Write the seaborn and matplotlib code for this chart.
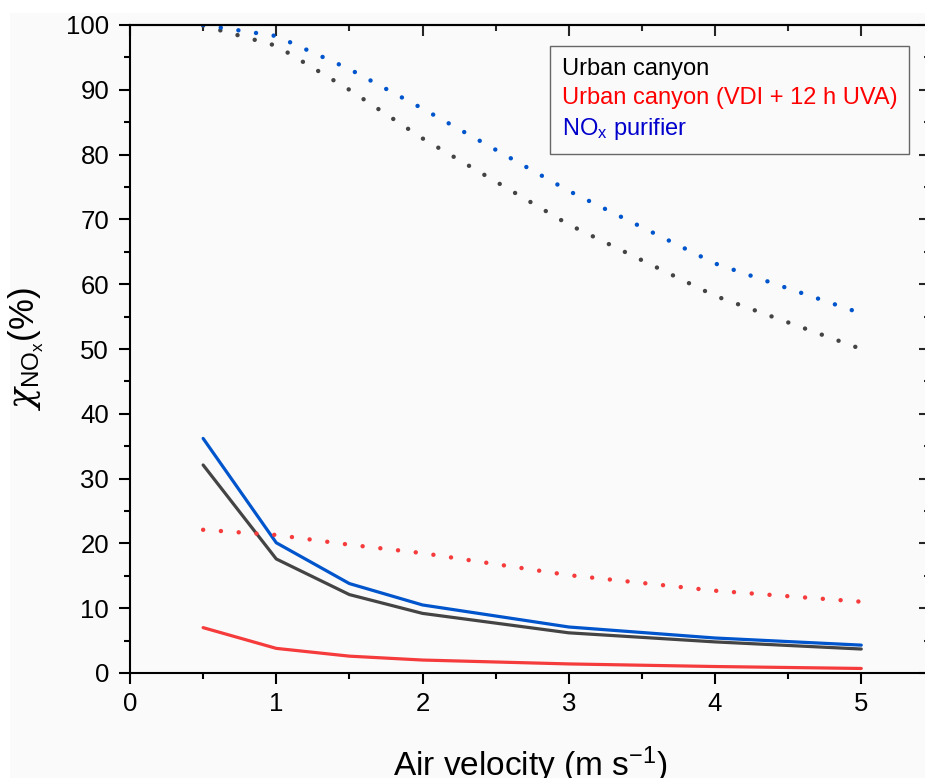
import matplotlib
matplotlib.use("Agg")
import matplotlib.pyplot as plt
from matplotlib.lines import Line2D
from matplotlib.patches import Rectangle
from matplotlib.ticker import MultipleLocator
import seaborn as sns

# data
air_velocity = [0.5, 1, 1.5, 2, 3, 4, 5]

canyon_solid = [32.1, 17.6, 12.1, 9.2, 6.2, 4.8, 3.7]
canyon_uva_solid = [7.0, 3.8, 2.6, 2.0, 1.4, 1.0, 0.7]
purifier_solid = [36.2, 20.1, 13.8, 10.5, 7.1, 5.4, 4.3]

canyon_dotted = [99.9, 96.8, 90.0, 82.5, 69.2, 58.2, 50.0]
canyon_uva_dotted = [22.1, 21.3, 19.8, 18.5, 15.1, 12.7, 11.0]
purifier_dotted = [100.0, 98.3, 93.2, 87.1, 74.4, 63.2, 55.5]

legend_labels = ["Urban canyon", "Urban canyon (VDI + 12 h UVA)", r"NO$_\mathregular{x}$ purifier"]
line_colors = ["#444444", "#f53b3b", "#0055cc"]
text_colors = ["#000000", "#ff0000", "#0000cc"]

sns.set_theme(style="ticks")
plt.rcParams["font.family"] = ["Liberation Sans", "DejaVu Sans"]
plt.rcParams["mathtext.fontset"] = "custom"
plt.rcParams["mathtext.rm"] = "Liberation Sans"
plt.rcParams["mathtext.it"] = "DejaVu Serif:italic"
plt.rcParams["mathtext.default"] = "regular"

bg = "#fafafa"
fig = plt.figure(figsize=(9.25, 7.78), dpi=100, facecolor="white")
# cropped grey page area
fig.patches.append(Rectangle((10 / 925, 0), 1, 1 - 13 / 778, transform=fig.transFigure,
                             facecolor=bg, edgecolor="none", zorder=-10))
ax = fig.add_axes([130 / 925, 1 - 673 / 778, 800 / 925, 648 / 778])
ax.set_facecolor(bg)

solid = [canyon_solid, canyon_uva_solid, purifier_solid]
dotted = [canyon_dotted, canyon_uva_dotted, purifier_dotted]

for ys, c in zip(solid, line_colors):
    sns.lineplot(x=air_velocity, y=ys, color=c, linewidth=2.3, ax=ax)
for ys, c in zip(dotted, line_colors):
    sns.lineplot(x=air_velocity, y=ys, color=c, linewidth=3.2,
                 linestyle=(0, (0.01, 4.0)), dash_capstyle="round", ax=ax)

ax.set_xlim(0, 5.47)
ax.set_ylim(0, 100)
ax.xaxis.set_major_locator(MultipleLocator(1))
ax.xaxis.set_minor_locator(MultipleLocator(0.5))
ax.yaxis.set_major_locator(MultipleLocator(10))
ax.yaxis.set_minor_locator(MultipleLocator(5))

for s in ax.spines.values():
    s.set_linewidth(1.5)
    s.set_color("black")

ax.tick_params(which="major", direction="out", length=8, width=1.5, labelsize=18.5,
               color="black", labelcolor="black")
ax.tick_params(which="minor", direction="out", length=4, width=1.5, color="black")
ax.tick_params(axis="y", which="major", pad=7)
ax.tick_params(axis="x", which="major", pad=6)

# inward ticks on top and right
top = ax.secondary_xaxis("top")
top.xaxis.set_major_locator(MultipleLocator(1))
top.xaxis.set_minor_locator(MultipleLocator(0.5))
top.tick_params(which="major", direction="in", length=8, width=1.5, labeltop=False)
top.tick_params(which="minor", direction="in", length=4, width=1.5)
top.spines["top"].set_linewidth(1.5)
right = ax.secondary_yaxis("right")
right.yaxis.set_major_locator(MultipleLocator(10))
right.yaxis.set_minor_locator(MultipleLocator(5))
right.tick_params(which="major", direction="in", length=8, width=1.5, labelright=False)
right.tick_params(which="minor", direction="in", length=4, width=1.5)
right.spines["right"].set_linewidth(1.5)

ax.set_xlabel("Air velocity (m s$^{-1}$)", fontsize=24, color="black")
ax.set_ylabel(r"$\mathit{\chi}_{NO_x}$(%)", fontsize=25, color="black")
ax.xaxis.set_label_coords(0.5, -0.11)
ax.yaxis.set_label_coords(-0.105, 0.5)

handles = [Line2D([], [], linestyle="none") for _ in legend_labels]
leg = ax.legend(handles, legend_labels, loc="upper right", bbox_to_anchor=(0.974, 0.968),
                borderaxespad=0, handlelength=0, handletextpad=0, fontsize=17,
                labelcolor=text_colors, fancybox=False, framealpha=1, facecolor=bg,
                edgecolor="#666666", labelspacing=0.3, borderpad=0.5)
leg.get_frame().set_linewidth(1.0)

fig.savefig("out.png", dpi=100, facecolor=fig.get_facecolor())
